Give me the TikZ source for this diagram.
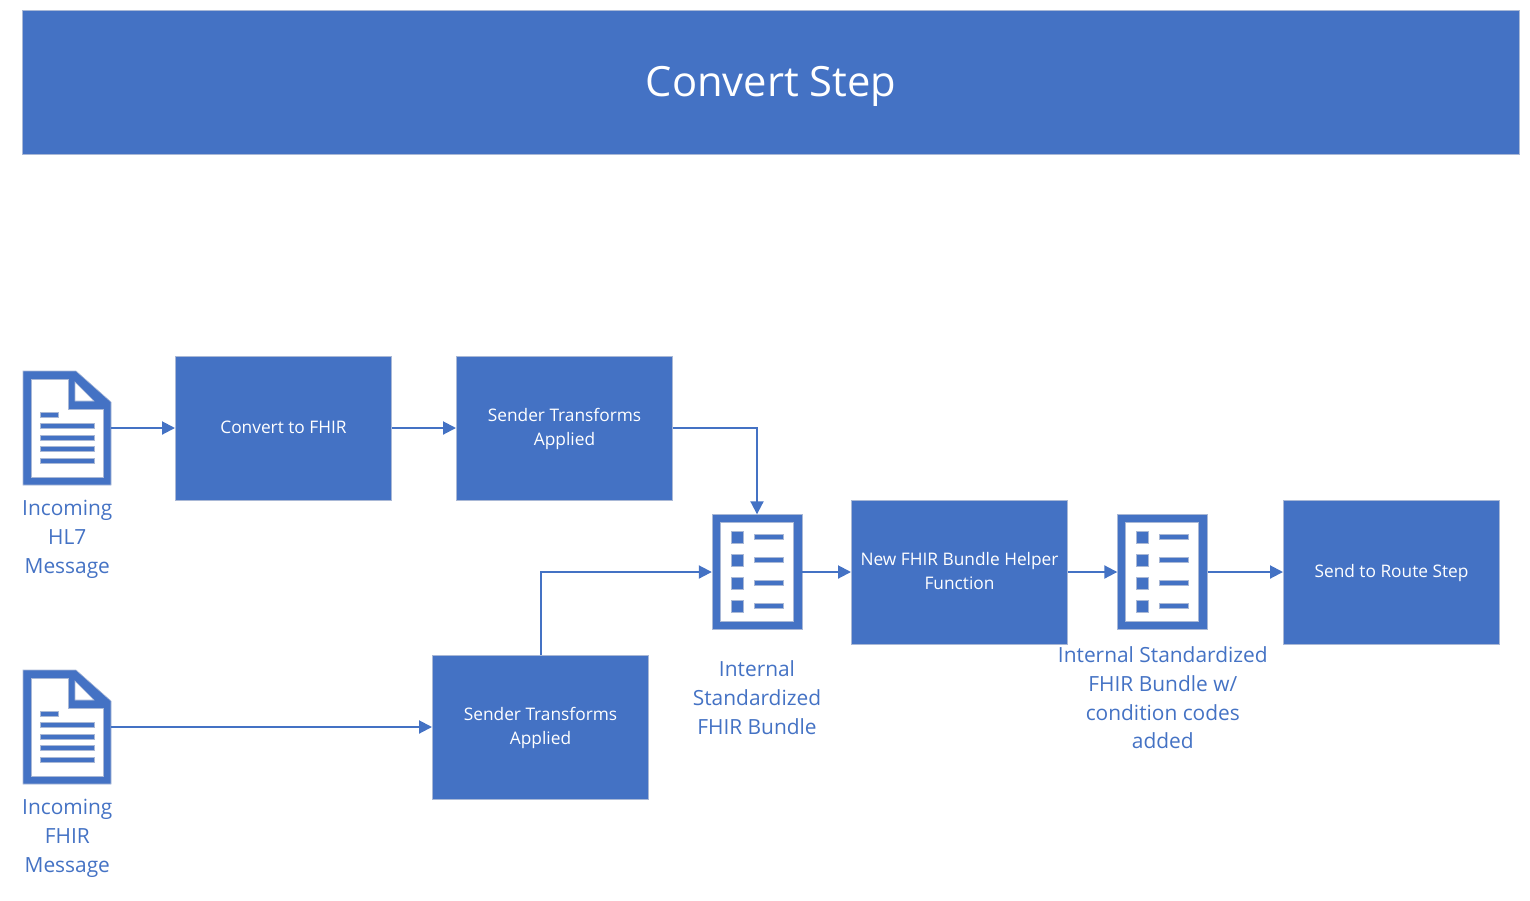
\documentclass[tikz,border=0pt]{standalone}
\usepackage{fontspec}
\setmainfont{Open Sans}
\usetikzlibrary{arrows.meta,calc}
\definecolor{blu}{HTML}{4472C4}
\definecolor{edgec}{HTML}{A9B8D6}
\newcommand{\bxs}{\rule[-5pt]{0pt}{21pt}}
\tikzset{
  bx/.style={draw=edgec,line width=1pt,fill=blu,text=white,minimum width=216pt,minimum height=144pt,inner sep=4pt,align=center,font=\fontsize{17.3}{24}\selectfont},
  hdr/.style={draw=edgec,line width=1pt,fill=blu,text=white,minimum width=1497pt,minimum height=144pt,font=\fontsize{41.7}{50}\selectfont},
  lbl/.style={text=blu,align=center,inner sep=0pt,font=\fontsize{20.9}{28.8}\selectfont},
  docbox/.style={minimum width=88pt,minimum height=114pt,inner sep=0pt},
  listbox/.style={minimum width=90pt,minimum height=115pt,inner sep=0pt},
  conn/.style={draw=blu,line width=2pt,-{Triangle[length=13pt,width=13pt]}},
  ico/.style={fill=blu,draw=edgec,line width=.6pt},
  icow/.style={fill=white,draw=edgec,line width=.6pt},
  pics/docicon/.style={code={
    \path[ico] (-44,-57) -- (9,-57) -- (44,-26) -- (44,57) -- (-44,57) -- cycle;
    \path[icow] (-36,-49) -- (1,-49) -- (1,-19) -- (36,-19) -- (36,49) -- (-36,49) -- cycle;
    \path[icow] (8,-46) -- (8,-27) -- (27,-27) -- cycle;
    \path[ico] (-27,-15.5) rectangle (-9,-10.5);
    \foreach \yy in {-2,10,21,33} \path[ico] (-27,\yy-2.5) rectangle (27,\yy+2.5);
  }},
  pics/listicon/.style={code={
    \path[ico] (-45,-57.5) rectangle (45,57.5);
    \path[icow] (-37,-49.5) rectangle (36,49.5);
    \foreach \yy in {-34.5,-11.5,11.5,34.5}{
      \path[ico] (-26,\yy-6) rectangle (-14,\yy+6);
      \path[ico] (-3,\yy-2.5) rectangle (26,\yy+2.5);
    }
  }}
}
\begin{document}
\begin{tikzpicture}[x=1pt,y=-1pt]
\useasboundingbox (0,0) rectangle (1530,900);
\node[hdr] (title) at (771,82.5) {\rule{0pt}{39pt}Convert Step};
\node[bx] (conv) at (283.5,428) {\bxs Convert to FHIR};
\node[bx] (send1) at (564.5,428) {\bxs Sender Transforms\\\bxs Applied};
\node[bx] (send2) at (540.5,727) {\bxs Sender Transforms\\\bxs Applied};
\node[bx] (helper) at (959.5,572) {\bxs New FHIR Bundle Helper\\\bxs Function};
\node[bx] (route) at (1391.5,572) {\bxs Send to Route Step};
\node[docbox] (doca) at (67,428) {};
\pic at (67,428) {docicon};
\node[docbox] (docb) at (67,727) {};
\pic at (67,727) {docicon};
\node[listbox] (lista) at (757,572) {};
\pic at (757,571.5) {listicon};
\node[listbox] (listb) at (1162.5,572) {};
\pic at (1162.5,571.5) {listicon};
\node[lbl,anchor=north] (la) at (67.3,500) {Incoming\\HL7\\Message};
\node[lbl,anchor=north] (lb) at (67.3,799) {Incoming\\FHIR\\Message};
\node[lbl,anchor=north] (lc) at (757,660.5) {Internal\\Standardized\\FHIR Bundle};
\node[lbl,anchor=north] (ld) at (1162.8,646.5) {Internal Standardized\\FHIR Bundle w/\\condition codes\\added};
\draw[conn] (doca) -- (conv);
\draw[conn] (conv) -- (send1);
\draw[conn] (send1.east) -| (lista.north);
\draw[conn] (docb) -- (send2);
\draw[conn] (send2.north) |- (lista.west);
\draw[conn] (lista) -- (helper);
\draw[conn] (helper) -- (listb);
\draw[conn] (listb) -- (route);
\end{tikzpicture}
\end{document}
